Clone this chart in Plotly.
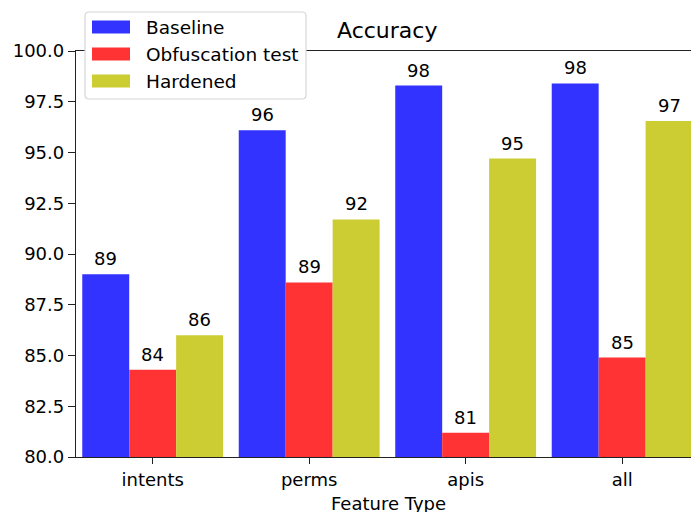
import plotly.graph_objects as go

categories = ["intents", "perms", "apis", "all"]
series_names = ["Baseline", "Obfuscation test", "Hardened"]
baseline = [89.0, 96.1, 98.3, 98.4]
obfuscation = [84.3, 88.6, 81.2, 84.9]
hardened = [86.0, 91.7, 94.7, 96.55]
series_values = [baseline, obfuscation, hardened]
colors = ["rgb(51,51,255)", "rgb(255,51,51)", "rgb(204,204,51)"]
y_ticks = [80.0, 82.5, 85.0, 87.5, 90.0, 92.5, 95.0, 97.5, 100.0]

W, H = 691, 512
ML, MR, MT, MB = 76, 0, 51, 55
PW = W - ML - MR
PH = H - MT - MB
FONT = "DejaVu Sans"
FS = 18
BAR_W = 0.3

def px_x(p):
    return (p - ML) / PW

def px_y(p):
    return (H - MB - p) / PH

fig = go.Figure()
annotations = []
for j, (name, vals, col) in enumerate(zip(series_names, series_values, colors)):
    fig.add_trace(go.Bar(
        x=categories, y=vals, name=name,
        marker=dict(color=col, line=dict(width=0)),
    ))
    for i, v in enumerate(vals):
        annotations.append(dict(
            text=f"{v:.0f}", xref="x", yref="y",
            x=i + (j - 1) * BAR_W, y=v, xanchor="center", yanchor="bottom",
            yshift=3, showarrow=False,
            font=dict(family=FONT, size=FS, color="black")))

shapes = []
# title and axis label
annotations.append(dict(text="Accuracy", xref="paper", yref="paper",
                        x=px_x(387), y=1, xanchor="center", yanchor="bottom",
                        yshift=6, showarrow=False,
                        font=dict(family=FONT, size=22, color="black")))
annotations.append(dict(text="Feature Type", xref="paper", yref="paper",
                        x=px_x(388), y=0, xanchor="center", yanchor="top",
                        yshift=-34, showarrow=False,
                        font=dict(family=FONT, size=FS, color="black")))

# manual legend (matplotlib style)
bx0, bx1, by0, by1 = 85, 306, 12, 99
r = 4
shapes.append(dict(
    type="path", xref="paper", yref="paper", layer="above",
    path=(f"M {px_x(bx0 + r)},{px_y(by0)} L {px_x(bx1 - r)},{px_y(by0)} "
          f"Q {px_x(bx1)},{px_y(by0)} {px_x(bx1)},{px_y(by0 + r)} "
          f"L {px_x(bx1)},{px_y(by1 - r)} Q {px_x(bx1)},{px_y(by1)} {px_x(bx1 - r)},{px_y(by1)} "
          f"L {px_x(bx0 + r)},{px_y(by1)} Q {px_x(bx0)},{px_y(by1)} {px_x(bx0)},{px_y(by1 - r)} "
          f"L {px_x(bx0)},{px_y(by0 + r)} Q {px_x(bx0)},{px_y(by0)} {px_x(bx0 + r)},{px_y(by0)} Z"),
    fillcolor="white", line=dict(color="#d6d6d6", width=1.2)))
rows = [27, 54, 81]
for name, col, ry in zip(series_names, colors, rows):
    shapes.append(dict(type="rect", xref="paper", yref="paper", layer="above",
                       x0=px_x(92), x1=px_x(130), y0=px_y(ry + 6.5), y1=px_y(ry - 6.5),
                       fillcolor=col, line=dict(width=0)))
    annotations.append(dict(text=name, xref="paper", yref="paper",
                            x=px_x(144), y=px_y(ry), xanchor="left", yanchor="middle",
                            showarrow=False,
                            font=dict(family=FONT, size=18.5, color="black")))

fig.update_layout(
    width=W, height=H,
    margin=dict(l=ML, r=MR, t=MT, b=MB, pad=0),
    paper_bgcolor="white", plot_bgcolor="white",
    barmode="group", bargap=0.1, bargroupgap=0,
    showlegend=False,
    font=dict(family=FONT, size=FS, color="black"),
    shapes=shapes, annotations=annotations,
)
fig.update_xaxes(
    range=[-0.49, 3.44], showgrid=False, zeroline=False,
    showline=True, linecolor="#222222", linewidth=1.3, mirror=True,
    ticks="outside", ticklen=6, tickwidth=1.3, tickcolor="#222222",
    tickfont=dict(family=FONT, size=FS, color="black"),
)
fig.update_yaxes(
    range=[80, 100], tickvals=y_ticks, ticktext=[f"{v:.1f}" for v in y_ticks],
    showgrid=False, zeroline=False,
    showline=True, linecolor="#222222", linewidth=1.3,
    ticks="outside", ticklen=7, tickwidth=1.3, tickcolor="#222222",
    tickfont=dict(family=FONT, size=FS, color="black"),
)

fig.write_html("out.html", config={"displayModeBar": False},
               post_script="document.body.style.margin='0';document.body.style.overflow='hidden';")
